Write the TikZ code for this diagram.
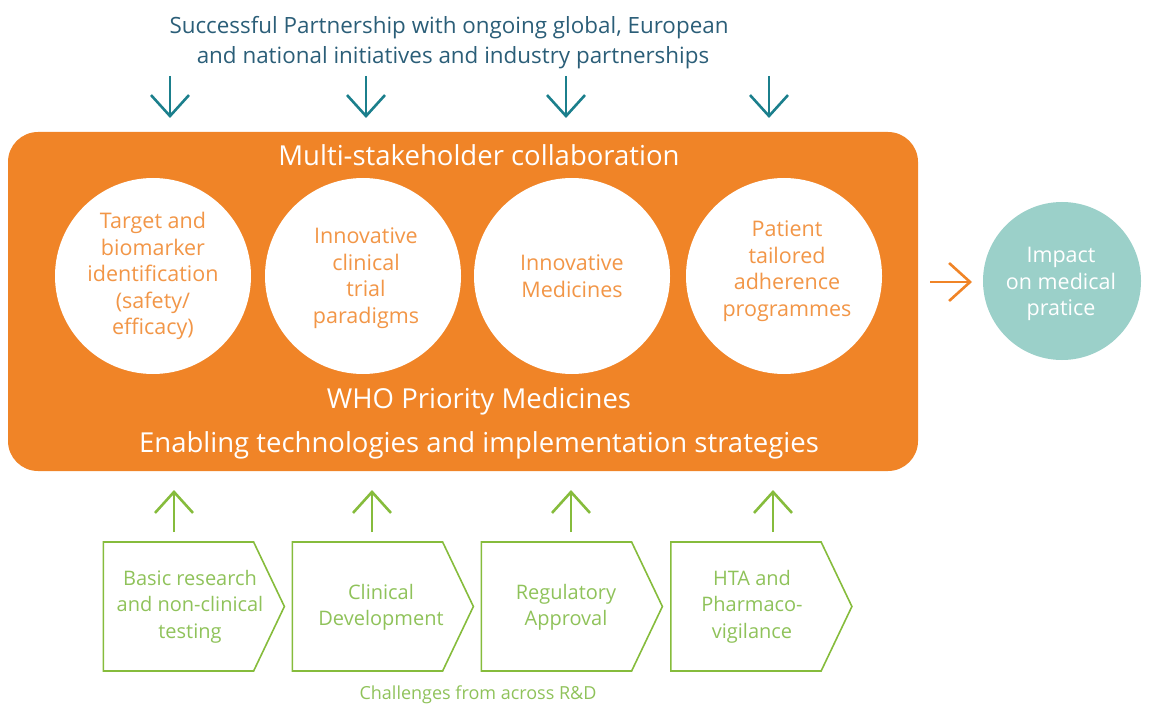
\documentclass[tikz,border=0pt]{standalone}
\usepackage{fontspec}
\setmainfont{Open Sans}
\usetikzlibrary{arrows.meta,shapes.symbols}
\definecolor{boxorange}{HTML}{F08427}
\definecolor{leafgreen}{HTML}{86BC3C}
\definecolor{textgreen}{HTML}{8FC25A}
\definecolor{deepteal}{HTML}{1B7F8C}
\definecolor{softteal}{HTML}{9BD0C9}
\definecolor{titleblue}{HTML}{2B5E78}
\tikzset{
  wheel/.style={circle,fill=white,minimum size=196pt,inner sep=0pt},
  wheeltext/.style={align=center,text=boxorange!85!white,font=\fontsize{21.5}{26.5}\selectfont},
  head/.style={text=white,font=\fontsize{27.5}{32}\selectfont},
  stepbox/.style={signal,signal to=east,draw=leafgreen,line width=1.6pt,minimum width=181pt,minimum height=129pt,signal pointer angle=129,inner sep=0pt},
  steptext/.style={align=center,text=textgreen,font=\fontsize{20}{26.5}\selectfont},
  tealarrow/.style={draw=deepteal,line width=2.6pt,-{Straight Barb[length=21pt,width=38pt,line width=2.6pt]}},
  greenarrow/.style={draw=leafgreen,line width=2.6pt,-{Straight Barb[length=21pt,width=38pt,line width=2.6pt]}},
  orangearrow/.style={draw=boxorange,line width=2.6pt,-{Straight Barb[length=21pt,width=38pt,line width=2.6pt]}}
}
\begin{document}
\begin{tikzpicture}[x=1pt,y=-1pt]
  \useasboundingbox (0,0) rectangle (1153,711);
  \node(title) at (449,43)[align=center,text=titleblue,font=\fontsize{22.4}{30}\selectfont]{Successful Partnership with ongoing global, European\\\hspace*{8pt}and national initiatives and industry partnerships};
  % orange panel
  \fill[boxorange,rounded corners=30pt] (8,132) rectangle (918,471);
  \node(multi) at (479,155)[head]{Multi-stakeholder collaboration};
  \node(who) at (479,401)[head]{WHO Priority Medicines};
  \node(enabling) at (479,445)[head]{Enabling technologies and implementation strategies};
  \node(c1) at (153,276)[wheel]{};
  \node(c2) at (363,276)[wheel]{};
  \node(c3) at (572,276)[wheel]{};
  \node(c4) at (784,276)[wheel]{};
  \node(c1text) at (153,276)[wheeltext]{Target and\\biomarker\\identification\\(safety/\\efficacy)};
  \node(c2text) at (366,278)[wheeltext]{Innovative\\clinical\\trial\\paradigms};
  \node(c3text) at (572,276)[wheeltext]{Innovative\\Medicines};
  \node(c4text) at (787,271)[wheeltext]{Patient\\tailored\\adherence\\programmes};
  \node(impact) at (1062,281)[circle,fill=softteal,minimum size=158pt,inner sep=0pt]{};
  \node(impacttext) at (1061,284)[align=center,text=white,font=\fontsize{21.5}{26.5}\selectfont]{Impact\\on medical\\pratice};
  % steps
  \node(s1) at (178.5,606.5)[stepbox]{};
  \node(s2) at (367.5,606.5)[stepbox]{};
  \node(s3) at (556.5,606.5)[stepbox]{};
  \node(s4) at (746,606.5)[stepbox]{};
  \node(s1text) at (190,606.5)[steptext]{Basic research\\and non-clinical\\testing};
  \node(s2text) at (381,607.5)[steptext]{Clinical\\Development};
  \node(s3text) at (566,607.5)[steptext]{Regulatory\\Approval};
  \node(s4text) at (752,606.5)[steptext]{HTA and\\Pharmaco-\\vigilance};
  \node(challenges) at (478,695)[text=textgreen,font=\fontsize{18}{22}\selectfont]{Challenges from across R\&D};
  % arrow ends
  \coordinate(t1) at (170,76);
  \coordinate(t2) at (366,76);
  \coordinate(t3) at (566,76);
  \coordinate(t4) at (769,76);
  \coordinate(p1) at (170,118);
  \coordinate(p2) at (366,118);
  \coordinate(p3) at (566,118);
  \coordinate(p4) at (769,118);
  \coordinate(g1) at (174,532);
  \coordinate(g2) at (372,532);
  \coordinate(g3) at (571,532);
  \coordinate(g4) at (773,532);
  \coordinate(u1) at (174,490);
  \coordinate(u2) at (372,490);
  \coordinate(u3) at (571,490);
  \coordinate(u4) at (773,490);
  \coordinate(o1) at (930,282);
  \coordinate(o2) at (972,282);
  \draw[tealarrow] (t1) -- (p1);
  \draw[tealarrow] (t2) -- (p2);
  \draw[tealarrow] (t3) -- (p3);
  \draw[tealarrow] (t4) -- (p4);
  \draw[greenarrow] (g1) -- (u1);
  \draw[greenarrow] (g2) -- (u2);
  \draw[greenarrow] (g3) -- (u3);
  \draw[greenarrow] (g4) -- (u4);
  \draw[orangearrow] (o1) -- (o2);
\end{tikzpicture}
\end{document}
